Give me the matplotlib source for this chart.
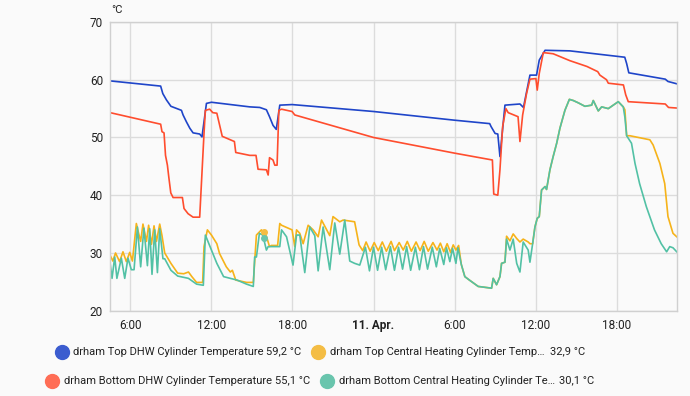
import matplotlib
matplotlib.use('Agg')
import matplotlib.pyplot as plt
from matplotlib.lines import Line2D

# Hours since 10 Apr 00:00 and temperatures in degC.
top_dhw_t = [4.5, 8.24, 8.4, 8.67, 9.0, 9.78, 9.9, 10.15, 10.4, 10.64, 11.13, 11.3,
             11.63, 12.0, 14.84, 15.58, 16.07, 16.3, 16.56, 16.8, 17.06, 17.97, 24.0,
             29.97, 32.6, 32.7, 33.0, 33.2, 33.36, 33.73, 34.84, 35.1, 35.58, 36.07,
             36.27, 36.7, 38.54, 42.6, 42.74, 42.9, 45.6, 45.8, 46.45]
top_dhw_v = [59.8, 58.9, 57.6, 56.5, 55.4, 54.7, 53.9, 52.7, 51.6, 50.8, 50.6, 50.1,
             55.9, 56.1, 55.3, 55.2, 54.8, 53.6, 52.1, 51.4, 55.6, 55.7, 54.5,
             53.0, 52.4, 51.9, 50.7, 50.6, 46.7, 55.6, 55.8, 55.2, 60.8, 60.8,
             63.4, 65.1, 65.0, 63.9, 62.8, 61.2, 60.1, 59.7, 59.3]

bot_dhw_t = [4.5, 8.24, 8.34, 8.49, 8.6, 8.74, 8.84, 8.99, 9.16, 9.85, 9.97, 10.27,
             10.64, 11.13, 11.45, 11.55, 11.87, 12.1, 12.4, 12.6, 12.8, 13.7, 13.8,
             14.84, 15.3, 15.45, 16.07, 16.2, 16.3, 16.56, 16.69, 16.86, 16.99, 17.19,
             17.97, 18.17, 24.0, 29.97, 32.8, 32.9, 33.2, 33.36, 33.56, 33.8, 33.97,
             34.7, 34.84, 35.04, 35.33, 35.58, 36.02, 36.12, 36.27, 36.57, 37.3,
             38.54, 39.8, 40.6, 40.76, 41.25, 41.38, 42.5, 42.67, 42.86, 45.6, 45.84,
             46.45]
bot_dhw_v = [54.3, 52.3, 51.0, 50.8, 46.9, 45.2, 43.2, 40.4, 39.6, 39.6, 37.7, 36.8,
             36.2, 36.2, 50.7, 54.7, 54.9, 54.3, 54.2, 52.2, 50.2, 49.3, 47.4,
             46.9, 46.9, 44.5, 44.4, 43.5, 46.5, 46.1, 45.2, 45.2, 54.7, 54.9,
             54.5, 53.9, 50.0, 47.3, 46.1, 40.2, 40.0, 44.4, 51.9, 55.0, 54.3,
             53.6, 49.3, 53.9, 57.6, 60.1, 60.2, 58.2, 61.1, 64.7, 64.5,
             63.3, 62.3, 61.4, 60.8, 60.0, 59.4, 59.1, 57.4, 56.2, 55.8, 55.2,
             55.1]

top_ch_t = [4.5, 4.7, 4.9, 5.2, 5.45, 5.7, 5.95, 6.15, 6.44, 6.6, 6.76, 6.93, 7.1,
            7.19, 7.35, 7.56, 7.75, 7.93, 8.17, 8.34, 8.54, 9.0, 9.5, 9.95, 10.3,
            10.55, 10.9, 11.35, 11.45, 11.7, 12.0, 12.4, 12.6, 13.1, 13.4, 13.55,
            13.8, 14.6, 15.1, 15.2, 15.33, 15.7, 16.07, 16.3, 16.44, 16.9, 17.06,
            17.19, 17.97, 18.17, 18.3, 18.54, 18.79, 19.16, 19.53, 19.9, 20.15,
            20.56, 20.76, 21.0, 21.5, 21.75, 22.6, 22.93, 23.2, 23.45, 23.75, 24.05,
            24.35, 24.65, 24.95, 25.3, 25.55, 25.9, 26.2, 26.5, 26.8, 27.15, 27.45,
            27.75, 28.05, 28.4, 28.7, 28.95, 29.2, 29.45, 29.7, 29.9, 30.1, 30.3,
            30.5, 30.76, 31.1, 31.75, 32.74, 32.86, 33.11, 33.36, 33.48, 33.73,
            33.85, 34.1, 34.34, 34.6, 34.84, 35.08, 35.45, 35.58, 35.78, 35.95,
            36.12, 36.27, 36.44, 36.7, 36.81, 37.06, 37.3, 37.56, 37.8, 38.17, 38.5,
            38.79, 39.16, 39.65, 40.15, 40.27, 40.64, 40.89, 41.38, 42.12, 42.49,
            42.61, 42.74, 42.98, 44.46, 44.7, 45.2, 45.56, 45.8, 46.17, 46.45]
top_ch_v = [29.6, 28.6, 30.0, 28.5, 30.2, 28.5, 30.1, 28.6, 35.1, 33.5, 32.0, 35.0, 33.0,
            32.0, 34.8, 31.5, 34.7, 32.0, 35.0, 33.0, 30.0, 28.2, 26.5, 26.4, 26.7,
            25.9, 24.9, 24.9, 31.1, 34.0, 33.1, 31.6, 29.9, 27.6, 26.7, 27.0,
            25.3, 24.9, 24.9, 28.5, 33.1, 34.0, 32.9, 31.1, 31.3, 31.3, 35.1,
            34.8, 34.0, 31.1, 34.0, 33.4, 31.6, 34.8, 34.0, 32.8, 35.7,
            33.9, 33.0, 36.3, 35.4, 35.7, 35.4, 31.4, 30.4, 31.9, 30.3, 31.8,
            30.4, 31.9, 30.3, 32.0, 30.4, 31.8, 30.5, 32.0, 30.3, 31.9, 30.4,
            32.0, 30.3, 31.8, 30.5, 31.7, 30.2, 31.6, 30.1, 31.4, 30.5, 31.3,
            28.0, 25.9, 25.3, 24.2, 23.9, 25.6, 24.5, 25.9, 28.2, 28.4,
            32.9, 32.1, 33.3, 32.5, 31.9, 32.4, 31.9, 31.6, 31.6, 34.5,
            36.0, 36.3, 40.9, 41.5, 41.0, 44.4, 46.7, 49.0, 51.6, 54.7, 56.6,
            56.4, 56.0, 55.4, 55.6, 56.4, 54.6, 55.3, 55.0, 56.2, 55.3,
            54.8, 50.3, 50.3, 49.6, 48.7, 45.5, 42.0, 36.3, 33.4, 32.8]

bot_ch_t = [4.5, 4.64, 4.84, 5.0, 5.33, 5.58, 5.82, 6.07, 6.27, 6.52, 6.76, 7.0, 7.26,
            7.43, 7.6, 7.8, 8.0, 8.17, 8.41, 8.54, 9.0, 9.5, 10.3, 10.9, 11.4, 11.55,
            11.9, 12.4, 12.9, 13.9, 14.6, 15.1, 15.2, 15.33, 15.55, 15.8, 16.07,
            16.2, 16.44, 17.06, 17.19, 17.56, 18.04, 18.3, 18.54, 18.91, 19.28,
            19.65, 19.9, 20.27, 20.76, 21.13, 21.5, 21.87, 22.24, 22.6, 22.98, 23.4,
            23.7, 24.0, 24.3, 24.6, 24.9, 25.25, 25.55, 25.85, 26.15, 26.45, 26.75,
            27.1, 27.4, 27.7, 28.0, 28.35, 28.65, 28.9, 29.2, 29.4, 29.65, 29.85,
            30.1, 30.25, 30.5, 30.76, 31.1, 31.75, 32.74, 32.86, 33.11, 33.36,
            33.48, 33.73, 33.85, 34.1, 34.34, 34.6, 34.84, 35.08, 35.45, 35.58,
            35.78, 35.95, 36.12, 36.27, 36.44, 36.7, 36.81, 37.06, 37.3, 37.56,
            37.8, 38.17, 38.5, 38.79, 39.16, 39.65, 40.15, 40.27, 40.64, 40.89,
            41.38, 42.12, 42.49, 42.61, 42.74, 43.1, 43.36, 43.7, 44.2, 44.8, 45.3,
            45.7, 45.93, 46.17, 46.45]
bot_ch_v = [28.2, 25.6, 29.3, 25.6, 29.1, 25.6, 29.1, 27.1, 27.1, 34.5, 27.6, 34.3, 27.8,
            34.2, 26.3, 34.0, 26.6, 34.2, 29.0, 29.0, 27.0, 26.0, 25.6, 24.6, 24.4, 33.1,
            31.1, 28.2, 25.9, 25.3, 24.6, 24.2, 29.3, 29.3, 33.4, 33.1, 30.5,
            31.1, 31.1, 31.1, 34.0, 32.8, 27.9, 33.1, 33.1, 26.6, 34.5,
            33.0, 26.9, 34.5, 27.1, 35.2, 29.8, 35.7, 28.6, 28.2, 27.9, 31.0,
            26.9, 31.0, 27.0, 31.0, 27.1, 31.1, 27.0, 31.0, 27.2, 31.1, 27.0,
            31.0, 27.1, 31.1, 27.2, 31.0, 27.6, 30.8, 28.0, 30.9, 28.5, 30.8,
            28.2, 30.9, 28.0, 25.9, 25.3, 24.2, 23.9, 25.6, 24.5, 25.9,
            28.2, 28.4, 32.4, 30.5, 32.4, 28.2, 26.7, 31.9, 30.5, 28.4,
            31.6, 34.5, 36.0, 36.3, 40.9, 41.5, 41.0, 44.4, 46.7, 49.0,
            51.6, 54.7, 56.6, 56.4, 56.0, 55.4, 55.6, 56.4, 54.6, 55.3,
            55.0, 56.2, 55.3, 53.5, 50.3, 49.0, 45.5, 42.0, 38.0, 34.0, 31.6,
            30.2, 31.1, 30.9, 30.2]

# hover markers visible in the screenshot
hover_t = 15.87
hover_top_ch = 33.7
hover_bot_ch = 32.6

tick_hours = [6, 12, 18, 24, 30, 36, 42]
tick_labels = ['6:00', '12:00', '18:00', '11. Apr.', '6:00', '12:00', '18:00']

names = ['drham Top DHW Cylinder Temperature',
         'drham Top Central Heating Cylinder Temp\u2026',
         'drham Bottom DHW Cylinder Temperature',
         'drham Bottom Central Heating Cylinder Te\u2026']
current = ['59,2 \u00b0C', '32,9 \u00b0C', '55,1 \u00b0C', '30,1 \u00b0C']

line_colors = ['#1f45c9', '#f6b31a', '#ff4d2e', '#52c1a5']
dot_colors = ['#3b5ccf', '#f4bd44', '#ff6d55', '#69c5ad']

plt.rcParams['font.family'] = ['Roboto', 'DejaVu Sans']
bg = '#fafafa'
fig = plt.figure(figsize=(6.9, 3.96), dpi=100, facecolor=bg)
ax = fig.add_axes([110 / 690, 1 - 310.7 / 396, 567.3 / 690, 288.7 / 396])
ax.set_facecolor(bg)

ax.plot(top_dhw_t, top_dhw_v, color=line_colors[0], lw=1.2)
ax.plot(top_ch_t, top_ch_v, color=line_colors[1], lw=1.2)
ax.plot(bot_dhw_t, bot_dhw_v, color=line_colors[2], lw=1.2)
ax.plot(bot_ch_t, bot_ch_v, color=line_colors[3], lw=1.2)
ax.plot([hover_t], [hover_top_ch], 'o', color=dot_colors[1], ms=4)
ax.plot([hover_t], [hover_bot_ch], 'o', color=dot_colors[3], ms=4)

ax.set_xlim(4.49, 46.49)
ax.set_ylim(20, 70)
ax.set_yticks([20, 30, 40, 50, 60, 70])
ax.set_xticks(tick_hours)
ax.set_xticklabels(tick_labels)
ax.get_xticklabels()[3].set_fontweight('bold')
ax.tick_params(length=0, labelsize=8.5, colors='#212121')
ax.tick_params(axis='x', pad=6)
ax.tick_params(axis='y', pad=5)
ax.grid(True, color='#dcdcdc', lw=1)
for s in ax.spines.values():
    s.set_color('#d0d0d0')
    s.set_linewidth(1)

fig.text(111 / 690, 1 - 10 / 396, '\u00b0C', fontsize=8, color='#212121',
         ha='left', va='center')

# Legend, drawn by hand in pixel positions
legend_pos = [(61.7, 351.7, 72.7, 265.7), (318.3, 351.7, 330, 550),
              (52.3, 380.7, 64, 275), (327.3, 380.7, 339.3, 559.3)]
for i, (cx, cy, tx, vx) in enumerate(legend_pos):
    fig.add_artist(Line2D([cx / 690], [1 - cy / 396], transform=fig.transFigure,
                          marker='o', markersize=10, color=dot_colors[i], lw=0))
    fig.text(tx / 690, 1 - cy / 396, names[i], fontsize=8, color='#212121',
             ha='left', va='center')
    fig.text(vx / 690, 1 - cy / 396, current[i], fontsize=8, color='#212121',
             ha='left', va='center')

plt.savefig('out.png', dpi=100, facecolor=bg)
